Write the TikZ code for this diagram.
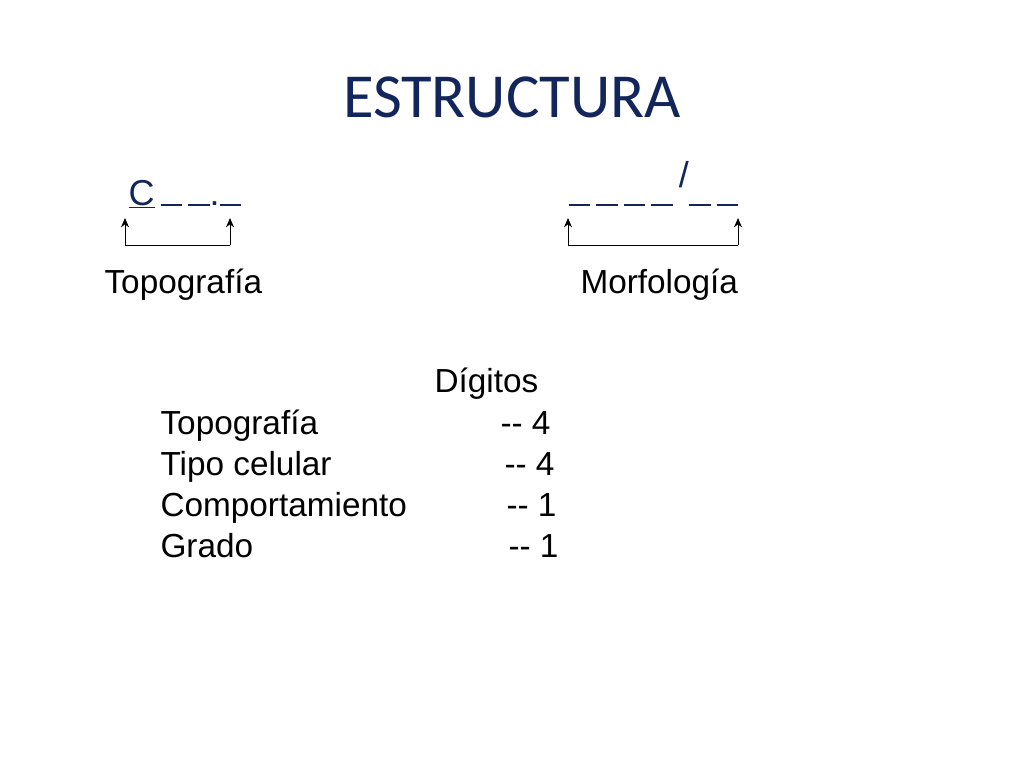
\documentclass[tikz,border=0pt]{standalone}
\usepackage{fontspec}
\usetikzlibrary{arrows.meta}
\setmainfont{Liberation Sans}
\newfontfamily\titlefont{Carlito}
\definecolor{titleblue}{RGB}{18,38,92}
\newcommand{\blank}{\rule[-0.03em]{0.6em}{0.05em}}
\begin{document}
\begin{tikzpicture}[x=0.75pt,y=-0.75pt,>={Stealth[length=7pt,width=6pt]},thick,
    code text/.style={anchor=base west,inner sep=0pt,font=\fontsize{27}{32}\selectfont,text=titleblue},
    label text/.style={anchor=base west,inner sep=0pt,font=\fontsize{25}{30}\selectfont},
    row text/.style={anchor=base west,inner sep=0pt,font=\fontsize{25}{30}\selectfont}]
    \useasboundingbox (0,0) rectangle (1024,768);
    \node[inner sep=0pt,anchor=base,text=titleblue,font=\titlefont\fontsize{47}{56}\selectfont] (title) at (512,117) {ESTRUCTURA};

    % codes
    \node[code text] (topcode) at (128,205) {\underline{C}\,\blank\,\blank.\blank};
    \node[code text] (morcode) at (568,205) {\blank\,\blank\,\blank\,\blank\,\raisebox{0.5em}{/}\blank\,\blank};
    \coordinate (ta) at (125,218); \coordinate (tb) at (230,218);
    \coordinate (ma) at (568,218); \coordinate (mb) at (738,218);
    \draw[->,semithick] (ta |- 0,245) -- (ta);
    \draw[semithick] (ta |- 0,245) -- (tb |- 0,245);
    \draw[->,semithick] (tb |- 0,245) -- (tb);
    \draw[->,semithick] (ma |- 0,245) -- (ma);
    \draw[semithick] (ma |- 0,245) -- (mb |- 0,245);
    \draw[->,semithick] (mb |- 0,245) -- (mb);
    \node[label text] (toplabel) at (104,293) {Topografía};
    \node[label text] (morlabel) at (580,293) {Morfología};

    % digits table
    \node[row text] (head) at (434,392) {Dígitos};
    \node[row text] (r1) at (160,434) {Topografía};
    \node[row text] (r2) at (160,475) {Tipo celular};
    \node[row text] (r3) at (160,516) {Comportamiento};
    \node[row text] (r4) at (160,557) {Grado};
    \node[row text] (d1) at (500,434) {-{}- 4};
    \node[row text] (d2) at (504,475) {-{}- 4};
    \node[row text] (d3) at (506,516) {-{}- 1};
    \node[row text] (d4) at (508,557) {-{}- 1};
\end{tikzpicture}
\end{document}
